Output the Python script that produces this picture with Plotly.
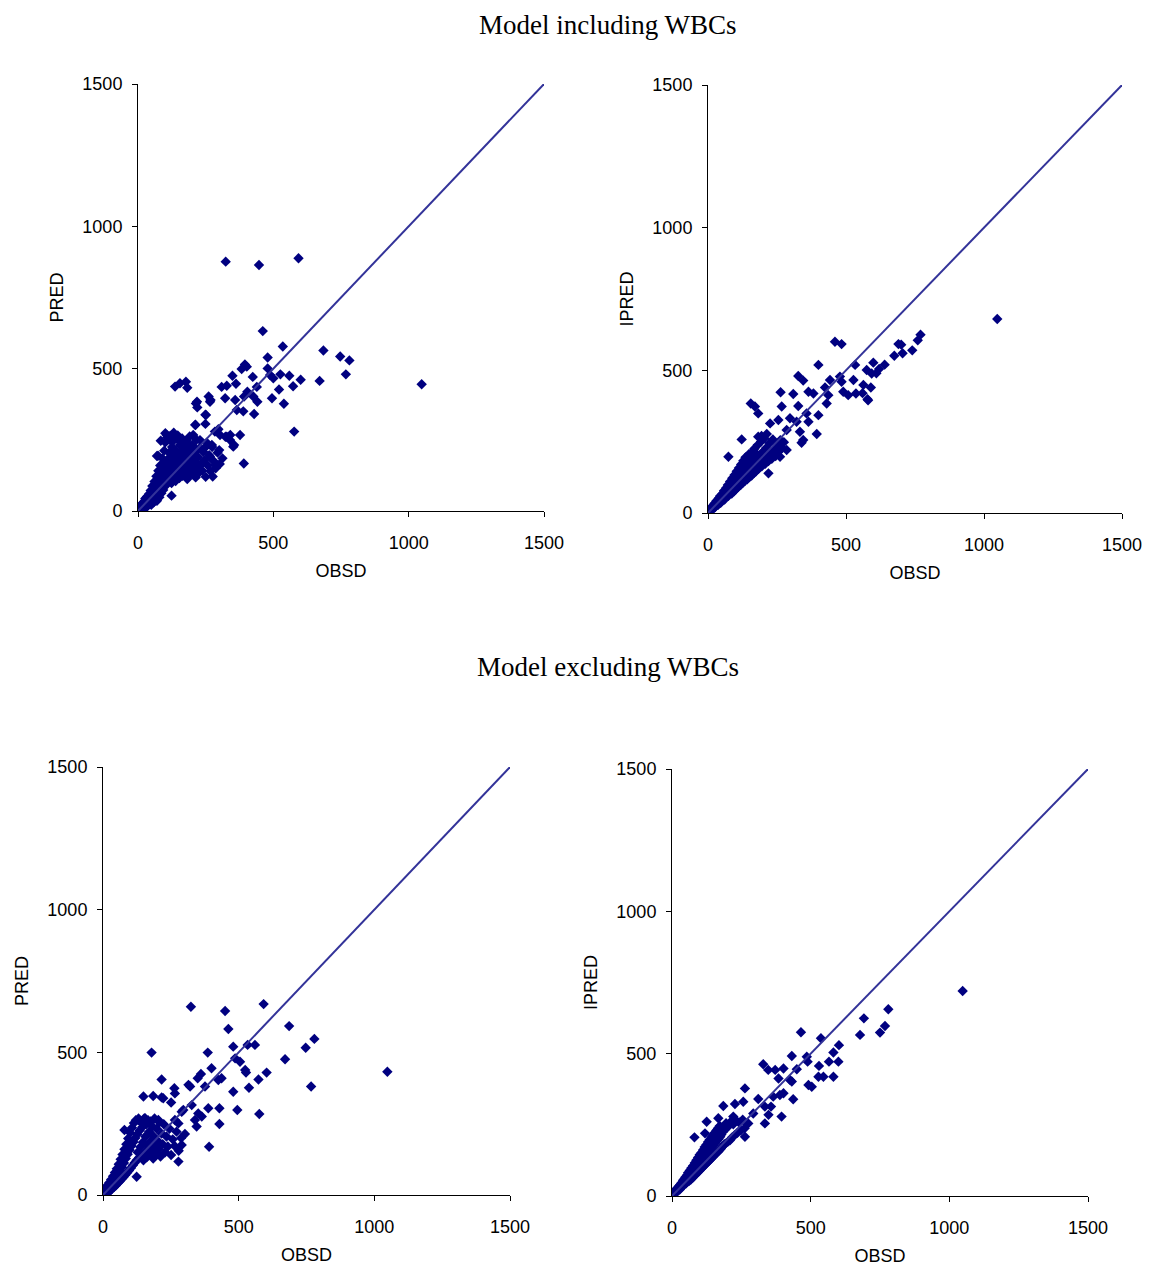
import plotly.graph_objects as go

# ---------------- data (OBSD, predicted) ----------------
# Model including WBCs : OBSD vs PRED
inc_pred_pts = [
    (324, 876), (447, 864), (593, 888), (461, 632), (535, 578), (685, 564), (747, 543),
    (781, 529), (768, 480), (1048, 445), (671, 457), (601, 461), (573, 438), (559, 475),
    (526, 480), (479, 539), (479, 501), (488, 478), (500, 466), (521, 427), (539, 377),
    (495, 396), (577, 279), (395, 515), (402, 507), (383, 499), (424, 471), (349, 475),
    (362, 447), (328, 440), (309, 436), (439, 436), (404, 419), (392, 402), (426, 402),
    (441, 384), (322, 396), (261, 402), (266, 384), (359, 390), (365, 355), (389, 350),
    (429, 341), (214, 378), (219, 364), (249, 338), (212, 303), (249, 306), (137, 437),
    (155, 449), (177, 454), (182, 433), (297, 287), (284, 279), (303, 267), (328, 261),
    (340, 249), (352, 226), (377, 267), (300, 214), (251, 226), (273, 232), (204, 267),
    (229, 249), (137, 261), (106, 267), (84, 247), (124, 244), (155, 244), (180, 238),
    (391, 167), (276, 121), (74, 194), (124, 54), (286, 162), (266, 191), (236, 167),
    (217, 214), (212, 302), (251, 337), (218, 384), (268, 390), (355, 232), (323, 261),
    (341, 267), (101, 273), (132, 275), (70, 193),
    (0, 5), (3, 0), (6, 14), (8, 4), (11, 20), (13, 9), (16, 27), (18, 14), (21, 6), (23, 33),
    (25, 19), (27, 44), (30, 12), (31, 26), (34, 51), (36, 20), (38, 36), (41, 60), (43, 28),
    (44, 47), (47, 72), (49, 22), (51, 39), (53, 88), (55, 56), (58, 31), (60, 67), (61, 104),
    (63, 45), (66, 80), (68, 122), (70, 36), (71, 59), (73, 95), (75, 141), (77, 70), (79, 48),
    (81, 112), (82, 160), (84, 88), (86, 62), (88, 131), (90, 185), (91, 101), (93, 74),
    (95, 150), (97, 212), (98, 118), (100, 87), (101, 241), (103, 165), (105, 136), (106, 96),
    (108, 258), (110, 182), (112, 150), (113, 112), (115, 205), (117, 130), (119, 264),
    (121, 172), (123, 143), (124, 98), (126, 225), (128, 158), (130, 118), (132, 248),
    (134, 190), (135, 136), (137, 163), (139, 105), (141, 212), (143, 178), (145, 127),
    (147, 265), (149, 150), (151, 196), (153, 116), (155, 232), (157, 170), (159, 141),
    (161, 206), (163, 255), (165, 124), (167, 185), (169, 152), (171, 221), (174, 134),
    (176, 198), (178, 166), (180, 247), (182, 112), (184, 180), (187, 148), (189, 214),
    (191, 262), (194, 129), (196, 190), (198, 160), (201, 232), (204, 141), (207, 205),
    (210, 172), (213, 118), (216, 250), (219, 155), (222, 190), (226, 135), (229, 222),
    (233, 165), (237, 142), (241, 208), (245, 178), (250, 120), (254, 240), (258, 160),
    (263, 196), (268, 140), (274, 225), (280, 175), (287, 150), (294, 205), (302, 165),
    (312, 185),
]

# Model including WBCs : OBSD vs IPRED
inc_ipred_pts = [
    (460, 600), (484, 592), (400, 519), (533, 519), (599, 527), (575, 501), (593, 489),
    (690, 592), (675, 551), (327, 480), (345, 464), (263, 423), (309, 417), (364, 425),
    (382, 419), (424, 440), (442, 466), (478, 478), (484, 460), (527, 466), (563, 449),
    (490, 425), (508, 413), (536, 419), (578, 399), (436, 413), (430, 384), (400, 343),
    (394, 277), (364, 320), (357, 349), (327, 375), (267, 373), (297, 332), (321, 320),
    (225, 314), (255, 326), (155, 384), (170, 373), (182, 349), (213, 277), (122, 258),
    (182, 267), (194, 270), (285, 291), (333, 285), (345, 256), (339, 246), (74, 197),
    (261, 197), (285, 221), (219, 139), (1048, 680), (770, 625), (760, 605), (740, 570),
    (700, 590), (705, 560), (640, 520), (620, 505), (610, 490), (590, 440), (580, 395),
    (560, 420),
    (0, 3), (2, 0), (4, 9), (6, 4), (8, 13), (10, 7), (12, 17), (14, 12), (15, 22), (17, 15),
    (19, 27), (21, 18), (23, 24), (24, 33), (26, 21), (28, 37), (30, 27), (31, 43), (33, 31),
    (35, 40), (37, 29), (39, 52), (41, 38), (43, 46), (44, 60), (46, 36), (48, 55), (50, 44),
    (52, 67), (54, 49), (56, 58), (58, 78), (60, 47), (62, 70), (64, 56), (66, 88), (68, 62),
    (70, 76), (72, 98), (74, 60), (76, 84), (78, 71), (80, 110), (82, 78), (84, 92), (86, 68),
    (88, 122), (90, 87), (92, 101), (94, 76), (96, 133), (98, 95), (100, 112), (102, 84),
    (104, 146), (106, 103), (108, 124), (110, 92), (112, 158), (114, 112), (116, 134),
    (118, 98), (120, 170), (122, 121), (124, 142), (126, 106), (128, 183), (130, 128),
    (132, 151), (134, 113), (136, 195), (138, 136), (140, 160), (142, 118), (144, 176),
    (146, 144), (148, 206), (150, 126), (152, 168), (154, 152), (156, 190), (158, 131),
    (160, 214), (162, 160), (164, 178), (166, 140), (168, 225), (170, 168), (172, 193),
    (174, 146), (176, 207), (178, 176), (180, 238), (183, 155), (186, 201), (189, 186),
    (192, 250), (195, 164), (198, 214), (201, 195), (204, 262), (207, 172), (211, 228),
    (215, 206), (219, 182), (223, 245), (227, 214), (231, 190), (235, 258), (240, 222),
    (245, 200), (250, 240), (256, 215), (262, 255), (268, 228), (275, 248),
]

# Model excluding WBCs : OBSD vs PRED
exc_pred_pts = [
    (324, 660), (450, 645), (592, 669), (462, 582), (686, 592), (779, 547), (747, 516),
    (671, 476), (767, 380), (1048, 432), (179, 499), (386, 499), (480, 520), (533, 526),
    (560, 526), (487, 479), (505, 467), (524, 438), (527, 429), (603, 429), (573, 405),
    (538, 376), (480, 362), (495, 298), (576, 284), (429, 304), (429, 249), (391, 169),
    (400, 444), (361, 424), (349, 409), (437, 409), (425, 403), (376, 380), (315, 386),
    (321, 380), (263, 374), (265, 356), (216, 405), (251, 324), (149, 345), (185, 347),
    (216, 342), (222, 339), (327, 315), (296, 298), (290, 292), (388, 304), (351, 286),
    (364, 275), (339, 263), (345, 240), (302, 214), (278, 251), (265, 263), (290, 175),
    (278, 117), (79, 228), (130, 263), (155, 269), (204, 263), (124, 64),
    (0, 2), (2, 9), (5, 0), (7, 17), (9, 6), (12, 25), (14, 12), (16, 34), (19, 8), (21, 21),
    (23, 43), (26, 15), (28, 31), (30, 54), (33, 22), (35, 40), (37, 66), (40, 27), (42, 50),
    (44, 79), (47, 33), (49, 60), (51, 92), (54, 41), (56, 71), (58, 108), (61, 47), (63, 84),
    (65, 125), (68, 55), (70, 97), (72, 142), (75, 62), (77, 112), (79, 160), (82, 70),
    (84, 128), (86, 178), (89, 78), (91, 143), (93, 198), (96, 86), (98, 158), (100, 218),
    (103, 95), (105, 172), (107, 236), (110, 104), (112, 186), (114, 252), (117, 113),
    (119, 200), (121, 262), (124, 122), (126, 213), (128, 150), (131, 268), (133, 131),
    (135, 226), (138, 168), (140, 255), (142, 140), (145, 238), (147, 185), (149, 122),
    (152, 268), (154, 150), (156, 205), (159, 248), (161, 132), (163, 175), (166, 262),
    (168, 158), (170, 222), (173, 140), (175, 258), (177, 190), (180, 165), (182, 240),
    (185, 128), (187, 205), (190, 268), (192, 176), (195, 148), (198, 232), (201, 190),
    (204, 160), (208, 255), (212, 135), (216, 215), (220, 178), (224, 248), (229, 150),
    (234, 205), (239, 170), (245, 232), (251, 140), (257, 195), (264, 172), (271, 222),
    (279, 155), (288, 200),
]

# Model excluding WBCs : OBSD vs IPRED
exc_ipred_pts = [
    (1048, 720), (780, 656), (692, 624), (768, 597), (750, 574), (678, 566), (465, 575),
    (537, 554), (602, 530), (582, 504), (566, 472), (600, 472), (582, 419), (530, 457),
    (528, 419), (546, 419), (489, 472), (486, 489), (432, 492), (450, 445), (432, 402),
    (426, 407), (492, 390), (504, 384), (437, 340), (402, 448), (372, 443), (384, 413),
    (347, 443), (329, 463), (389, 355), (365, 349), (402, 361), (395, 279), (263, 378),
    (311, 341), (257, 331), (227, 323), (185, 316), (357, 314), (335, 314), (348, 285),
    (335, 255), (125, 261), (167, 273), (221, 279), (81, 206), (119, 220), (263, 208),
    (275, 255), (293, 290),
    (0, 4), (2, 0), (4, 10), (6, 5), (8, 14), (10, 8), (12, 19), (14, 12), (16, 24), (18, 16),
    (20, 29), (22, 20), (24, 25), (26, 35), (28, 23), (30, 40), (32, 30), (34, 46), (36, 33),
    (38, 42), (40, 55), (42, 38), (44, 59), (46, 47), (48, 66), (50, 44), (52, 58), (54, 73),
    (56, 50), (58, 82), (60, 63), (62, 53), (64, 90), (66, 70), (68, 58), (70, 98), (72, 78),
    (74, 64), (76, 106), (78, 85), (80, 70), (82, 116), (84, 93), (86, 76), (88, 126),
    (90, 100), (92, 82), (94, 135), (96, 108), (98, 88), (100, 145), (102, 115), (104, 95),
    (106, 152), (108, 123), (110, 100), (112, 162), (114, 131), (116, 106), (118, 172),
    (120, 140), (122, 112), (124, 180), (126, 148), (128, 118), (130, 190), (132, 155),
    (134, 124), (136, 198), (138, 162), (140, 130), (142, 206), (144, 170), (146, 136),
    (148, 214), (150, 178), (152, 142), (154, 222), (156, 186), (158, 148), (160, 230),
    (162, 194), (164, 154), (166, 238), (168, 200), (170, 160), (172, 246), (174, 208),
    (176, 166), (178, 216), (180, 172), (183, 225), (186, 178), (189, 232), (192, 184),
    (195, 256), (198, 240), (201, 190), (205, 248), (209, 196), (213, 262), (217, 206),
    (221, 252), (226, 214), (231, 265), (236, 222), (242, 258), (248, 230), (255, 268),
    (262, 238), (270, 255),
]

identity_line = [0, 1500]
tick_vals = [0, 500, 1000, 1500]
tick_text = ["0", "500", "1000", "1500"]
y_titles = ["PRED", "IPRED", "PRED", "IPRED"]
section_titles = ["Model including WBCs", "Model excluding WBCs"]

# ---------------- figure ----------------
PAGE_OFF = 8            # default body margin of the html page
W, H = 1151 - PAGE_OFF, 1271 - PAGE_OFF
panels = [
    # (data, x pixel range, y pixel range (top, bottom)) in page pixels
    (inc_pred_pts, (138, 544), (84, 511)),
    (inc_ipred_pts, (708, 1122), (85, 513)),
    (exc_pred_pts, (103, 510), (767, 1195)),
    (exc_ipred_pts, (672, 1088), (769, 1196)),
]


def fx(px):
    return (px - PAGE_OFF) / W


def fy(py):
    return 1 - (py - PAGE_OFF) / H


MARKER = "#000080"
LINE = "#333399"
FONT = "Arial, Liberation Sans, sans-serif"
SERIF = "Liberation Serif, Times New Roman, serif"

fig = go.Figure()
layout_axes = {}
for i, (pts, (x0, x1), (yt, yb)) in enumerate(panels):
    n = i + 1
    xa = "x" if n == 1 else f"x{n}"
    ya = "y" if n == 1 else f"y{n}"
    xs = [p[0] for p in pts]
    ys = [p[1] for p in pts]
    fig.add_trace(go.Scatter(
        x=xs, y=ys, mode="markers", xaxis=xa, yaxis=ya,
        marker=dict(symbol="diamond", size=8, color=MARKER, line=dict(width=0)),
        showlegend=False, hoverinfo="x+y",
    ))
    fig.add_trace(go.Scatter(
        x=identity_line, y=identity_line, mode="lines", xaxis=xa, yaxis=ya,
        line=dict(color=LINE, width=2), showlegend=False, hoverinfo="skip",
    ))
    common = dict(
        range=[0, 1500], tickvals=tick_vals, ticktext=tick_text,
        showgrid=False, zeroline=False, showline=True, linecolor="black", linewidth=1,
        ticks="outside", ticklen=5, tickcolor="black", tickwidth=1,
        tickfont=dict(family=FONT, size=18, color="black"),
        title_font=dict(family=FONT, size=18, color="black"),
        fixedrange=True, automargin=False,
    )
    xkey = "xaxis" if n == 1 else f"xaxis{n}"
    ykey = "yaxis" if n == 1 else f"yaxis{n}"
    layout_axes[xkey] = dict(
        common, domain=[fx(x0), fx(x1)], anchor=ya,
        title=dict(text="OBSD", standoff=12), ticklabelstandoff=10,
    )
    layout_axes[ykey] = dict(
        common, domain=[fy(yb), fy(yt)], anchor=xa,
        title=dict(text=y_titles[i], standoff=14), ticklabelstandoff=6,
    )

annotations = [
    dict(text=section_titles[0], x=fx(608), y=fy(8), xref="paper", yref="paper",
         xanchor="center", yanchor="top", showarrow=False,
         font=dict(family=SERIF, size=27, color="black")),
    dict(text=section_titles[1], x=fx(608), y=fy(667), xref="paper", yref="paper",
         xanchor="center", yanchor="middle", showarrow=False,
         font=dict(family=SERIF, size=27, color="black")),
]

fig.update_layout(
    width=W, height=H, margin=dict(l=0, r=0, t=0, b=0, autoexpand=False),
    paper_bgcolor="white", plot_bgcolor="white",
    annotations=annotations, **layout_axes,
)

fig.write_html("out.html")
